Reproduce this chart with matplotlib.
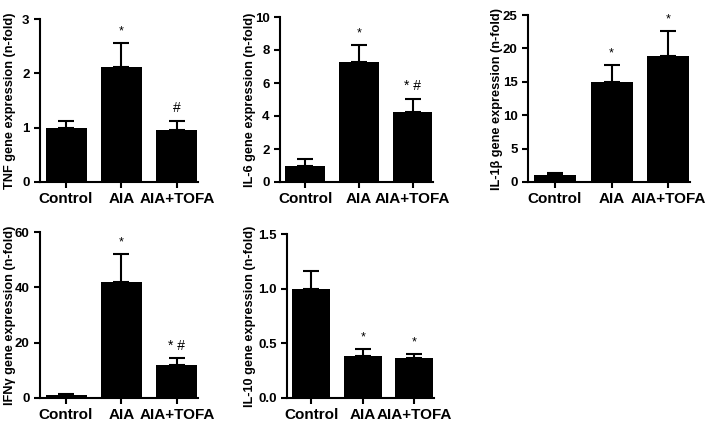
import matplotlib.pyplot as plt
import numpy as np

W, H = 709, 425

groups = ["Control", "AIA", "AIA+TOFA"]

tnf_mean = [1.0, 2.12, 0.95]
tnf_sem = [0.12, 0.43, 0.18]
tnf_marks = ["", "*", "#"]

il6_mean = [1.0, 7.3, 4.25]
il6_sem = [0.38, 1.0, 0.8]
il6_marks = ["", "*", "* #"]

il1b_mean = [1.0, 15.0, 18.8]
il1b_sem = [0.3, 2.5, 3.8]
il1b_marks = ["", "*", "*"]

ifng_mean = [1.0, 42.0, 12.0]
ifng_sem = [0.5, 10.0, 2.3]
ifng_marks = ["", "*", "* #"]

il10_mean = [1.0, 0.385, 0.365]
il10_sem = [0.16, 0.06, 0.035]
il10_marks = ["", "*", "*"]

plt.rcParams["font.family"] = ["Liberation Sans", "DejaVu Sans"]
plt.rcParams["font.weight"] = "bold"

fig = plt.figure(figsize=(W / 100, H / 100), dpi=100)


def panel(px, mean, sem, marks, ylabel, ymax, yticks, yticklabels, label_gap=30):
    left, right, top, bottom = px
    ax = fig.add_axes([left / W, 1 - bottom / H, (right - left) / W, (bottom - top) / H])
    x = np.arange(len(groups))
    ax.bar(x, mean, width=0.74, color="black", zorder=2)
    # upper error bars only, as in the original
    ax.errorbar(x, mean, yerr=[np.zeros(len(sem)), sem], fmt="none",
                ecolor="black", elinewidth=1.5, capsize=6, capthick=1.5, zorder=1)
    off = ymax * 0.035
    for xi, m, s, t in zip(x, mean, sem, marks):
        if t:
            ax.text(xi, m + s + off, t, ha="center", va="bottom",
                    fontsize=10 if "#" in t else 9, fontweight="normal")
    ax.set_xlim(-0.47, 2.38)
    ax.set_ylim(0, ymax)
    ax.set_yticks(yticks)
    ax.set_yticklabels(yticklabels)
    ax.set_xticks(x)
    ax.set_xticklabels(groups, fontsize=11, fontweight="bold")
    ax.set_ylabel(ylabel, fontsize=9.2, fontweight="bold", va="center")
    ax.yaxis.set_label_coords(-label_gap / (right - left), 0.5)
    for s in ("top", "right"):
        ax.spines[s].set_visible(False)
    for s in ("left", "bottom"):
        ax.spines[s].set_linewidth(1.5)
    ax.tick_params(axis="both", width=1.5, length=4, labelsize=9.5)
    ax.tick_params(axis="x", labelsize=11, pad=3)
    return ax


panel((40, 198, 19, 182), tnf_mean, tnf_sem, tnf_marks,
      "TNF gene expression (n-fold)", 3, [0, 1, 2, 3], ["0", "1", "2", "3"])
panel((280, 433, 17, 182), il6_mean, il6_sem, il6_marks,
      "IL-6 gene expression (n-fold)", 10, [0, 2, 4, 6, 8, 10],
      ["0", "2", "4", "6", "8", "10"])
panel((528, 690, 15, 182), il1b_mean, il1b_sem, il1b_marks,
      "IL-1\u03b2 gene expression (n-fold)", 25, [0, 5, 10, 15, 20, 25],
      ["0", "5", "10", "15", "20", "25"], label_gap=31)
panel((40, 198, 232, 398), ifng_mean, ifng_sem, ifng_marks,
      "IFN\u03b3 gene expression (n-fold)", 60, [0, 20, 40, 60],
      ["0", "20", "40", "60"])
panel((287, 434, 234, 398), il10_mean, il10_sem, il10_marks,
      "IL-10 gene expression (n-fold)", 1.5, [0, 0.5, 1.0, 1.5],
      ["0.0", "0.5", "1.0", "1.5"], label_gap=37)

fig.savefig("out.png", dpi=100)
